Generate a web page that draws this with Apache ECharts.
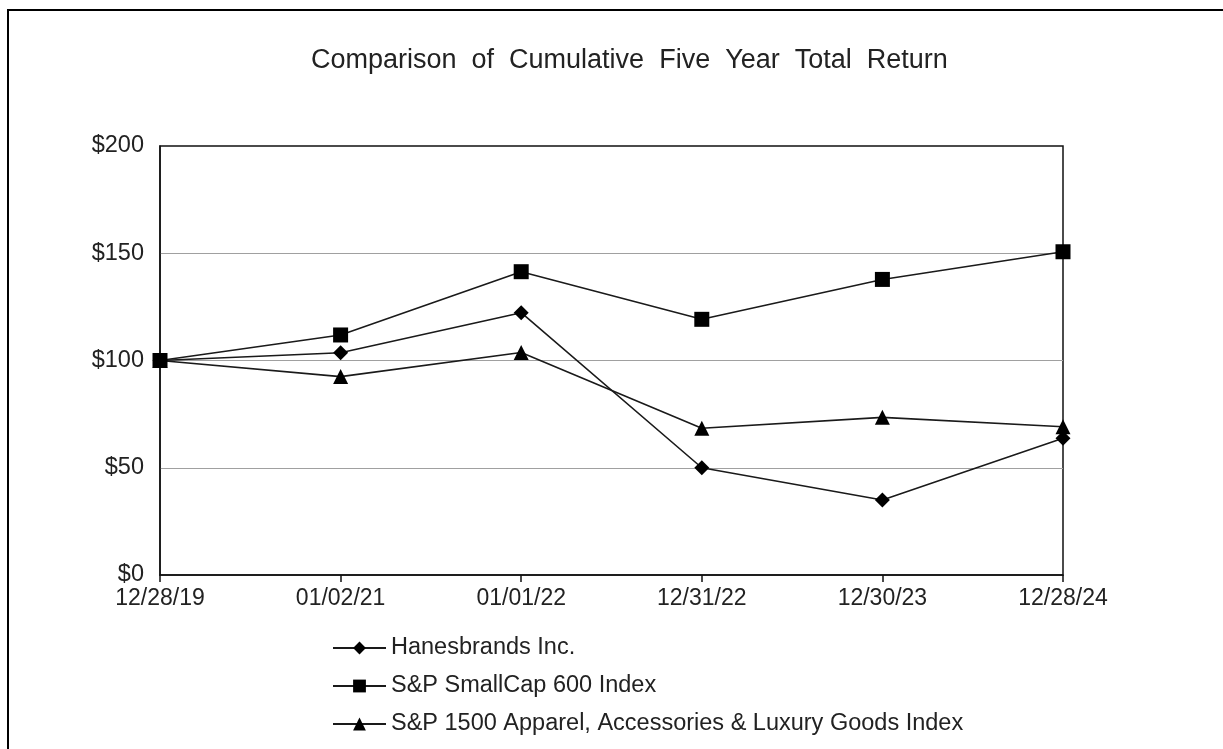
<!DOCTYPE html>
<html>
<head>
<meta charset="utf-8">
<script src="https://cdn.jsdelivr.net/npm/echarts@6/dist/echarts.min.js"></script>
<style>
  html, body { margin: 0; padding: 0; background: #fff; }
  #main { width: 1223px; height: 749px; }
</style>
</head>
<body>
<div id="main"></div>
<script>
// dates on the x axis
var dates = ["12/28/19", "01/02/21", "01/01/22", "12/31/22", "12/30/23", "12/28/24"];
// cumulative return values ($100 invested)
var hanesbrands = [100, 103.6, 122.3, 50, 35, 63.7];
var smallCap600 = [100, 111.9, 141.4, 119.2, 137.8, 150.7];
var apparelIndex = [100, 92.5, 103.7, 68.4, 73.5, 69.1];
var yTicks = [0, 50, 100, 150, 200];

var fontFamily = "'Liberation Sans', Arial, sans-serif";
var myChart = echarts.init(document.getElementById("main"));

function lineSeries(name, data, symbol, size, z) {
  return {
    name: name,
    type: "line",
    data: data,
    symbol: symbol,
    symbolSize: size,
    z: z,
    lineStyle: { color: "#1a1a1a", width: 1.6 },
    itemStyle: { color: "#000" },
    animation: false
  };
}

var option = {
  backgroundColor: "#fff",
  textStyle: { fontFamily: fontFamily },
  title: {
    text: "Comparison  of  Cumulative  Five  Year  Total  Return",
    left: 306,
    top: 42,
    textStyle: { fontFamily: fontFamily, fontSize: 27, fontWeight: "normal", color: "#222" }
  },
  graphic: [
    { type: "line", shape: { x1: 7, y1: 10, x2: 1223, y2: 10 }, style: { stroke: "#000", lineWidth: 2 } },
    { type: "line", shape: { x1: 8, y1: 9, x2: 8, y2: 749 }, style: { stroke: "#000", lineWidth: 2 } }
  ],
  legend: {
    orient: "vertical",
    left: 327,
    top: 631,
    itemWidth: 53,
    itemHeight: 16,
    itemGap: 14,
    data: ["Hanesbrands Inc.", "S&P SmallCap 600 Index", "S&P 1500 Apparel, Accessories & Luxury Goods Index"],
    textStyle: { fontFamily: fontFamily, fontSize: 23.5, lineHeight: 24, color: "#222" }
  },
  grid: {
    left: 160,
    right: 160,
    top: 146,
    bottom: 174,
    show: true,
    borderColor: "#111",
    borderWidth: 1.5,
    containLabel: false
  },
  xAxis: {
    type: "category",
    data: dates,
    boundaryGap: false,
    axisLine: { lineStyle: { color: "#111", width: 1.5 } },
    axisTick: { show: true, length: 7, lineStyle: { color: "#111", width: 1.5 } },
    axisLabel: { fontFamily: fontFamily, fontSize: 23, color: "#222", margin: 12 },
    splitLine: { show: false }
  },
  yAxis: {
    type: "value",
    min: yTicks[0],
    max: yTicks[yTicks.length - 1],
    interval: 50,
    axisLine: { show: true, lineStyle: { color: "#111", width: 1.5 } },
    axisTick: { show: false },
    axisLabel: {
      fontFamily: fontFamily, fontSize: 23.5, color: "#222", margin: 16,
      formatter: function (v) { return "$" + v; }
    },
    splitLine: { show: true, showMinLine: false, showMaxLine: false, lineStyle: { color: "#a0a0a0", width: 1.2 } }
  },
  series: [
    lineSeries("Hanesbrands Inc.", hanesbrands, "diamond", 15, 2),
    lineSeries("S&P 1500 Apparel, Accessories & Luxury Goods Index", apparelIndex, "triangle", 15, 3),
    lineSeries("S&P SmallCap 600 Index", smallCap600, "rect", 15, 4)
  ],
  animation: false
};
myChart.setOption(option);
</script>
</body>
</html>
